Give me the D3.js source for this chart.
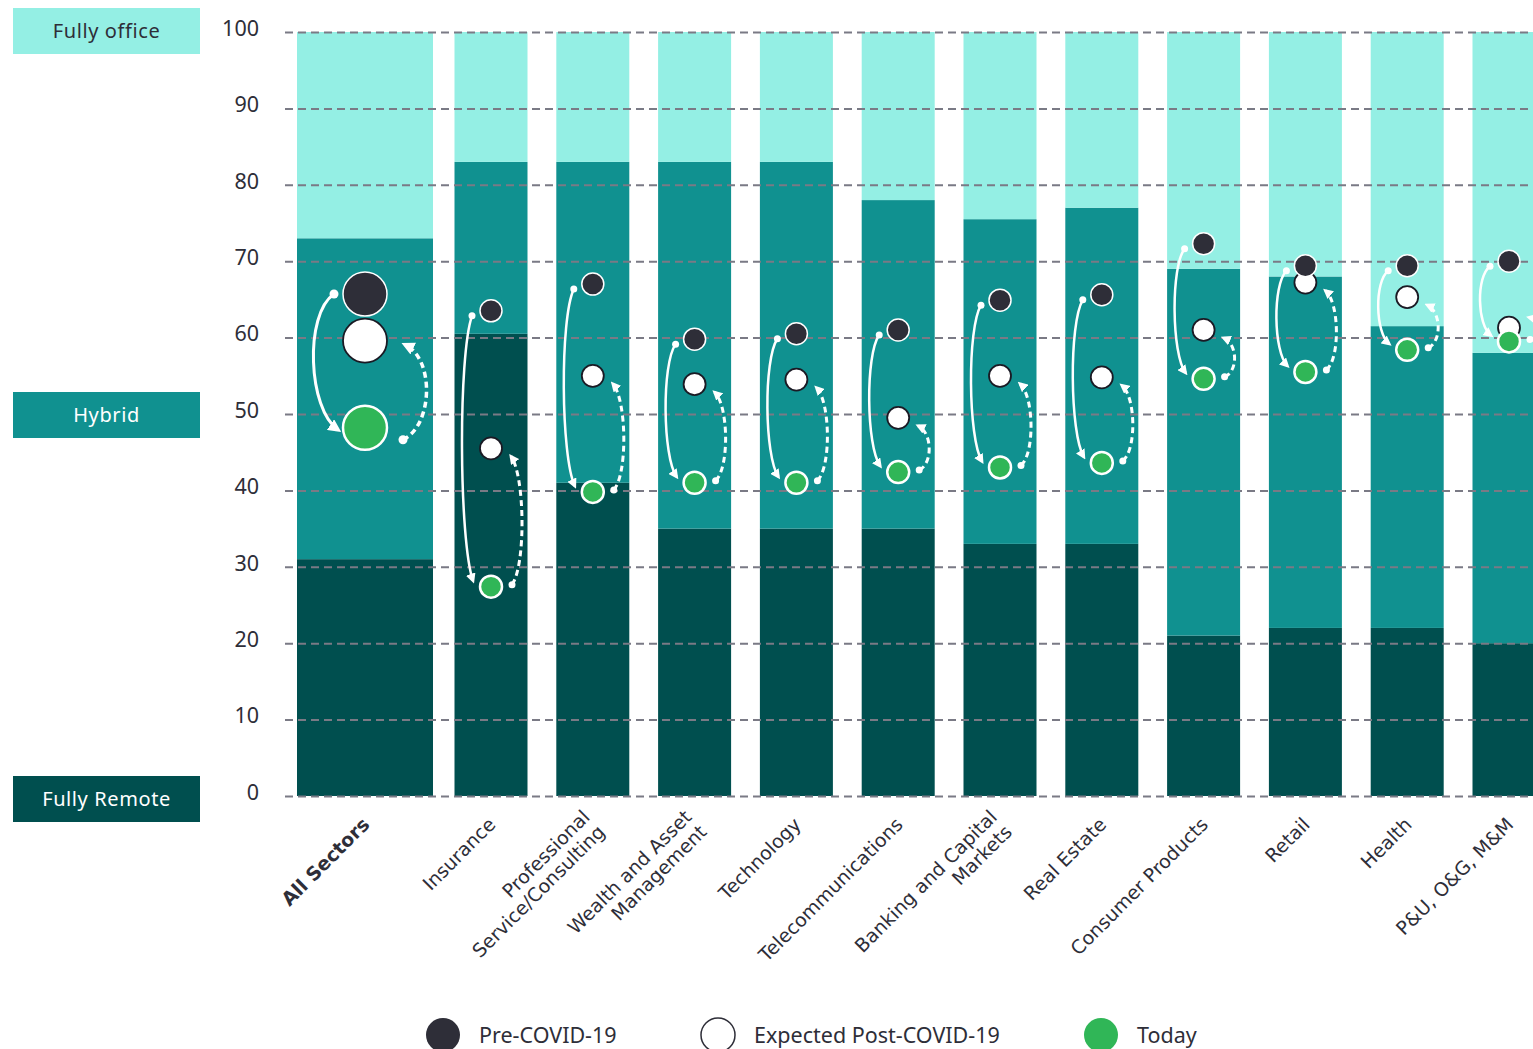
<!DOCTYPE html>
<html>
<head>
<meta charset="utf-8">
<script src="https://cdn.jsdelivr.net/npm/d3@7"></script>
<style>
  body { margin: 0; background: #fff; }
  text { font-family: "Noto Sans", sans-serif; fill: #2e2e38; }
  text.xlab { font-family: "DejaVu Sans", sans-serif; }
</style>
</head>
<body>
<script>
// sectors (line breaks mark the wrapped axis labels)
var categories = ["All Sectors", "Insurance", "Professional\nService/Consulting",
  "Wealth and Asset\nManagement", "Technology", "Telecommunications",
  "Banking and Capital\nMarkets", "Real Estate", "Consumer Products",
  "Retail", "Health", "P&U, O&G, M&M"];

// stacked shares, %
var fullyRemote = [31, 60.5, 41, 35, 35, 35, 33, 33, 21, 22, 22, 20];
var hybrid      = [42, 22.5, 42, 48, 48, 43, 42.5, 44, 48, 46, 39.5, 38];
var fullyOffice = [27, 17, 17, 17, 17, 22, 24.5, 23, 31, 32, 38.5, 42];

// dot values, %
var preCovid = [65.7, 63.5, 67, 59.8, 60.5, 61, 64.9, 65.6, 72.3, 69.4, 69.4, 70];
var expected = [59.6, 45.5, 55, 53.9, 54.5, 49.5, 55, 54.8, 61, 67.2, 65.3, 61.3];
var today    = [48.2, 27.4, 39.8, 41, 41, 42.4, 43, 43.6, 54.6, 55.5, 58.4, 59.5];

var yTicks = [0, 10, 20, 30, 40, 50, 60, 70, 80, 90, 100];
var legendItems = ["Pre-COVID-19", "Expected Post-COVID-19", "Today"];
var segNames = ["Fully Remote", "Hybrid", "Fully office"];

var colors = {
  remote: "#004f4f", hybrid: "#109190", office: "#94efe4",
  pre: "#2e2e38", today: "#30b657", grid: "#7a7a85"
};

var W = 1533, H = 1049;
var svg = d3.select("body").append("svg").attr("width", W).attr("height", H);

var y = d3.scaleLinear().domain([0, 100]).range([796, 32]);
var xSmall = d3.scalePoint().domain(categories.slice(1)).range([491, 1509]);
function cx(i) { return i === 0 ? 365 : xSmall(categories[i]); }
function bw(i) { return i === 0 ? 136 : 73; }

// stacked bars
var stackData = categories.map(function(c, i) {
  return { cat: c, remote: fullyRemote[i], hybrid: hybrid[i], office: fullyOffice[i], i: i };
});
var stack = d3.stack().keys(["remote", "hybrid", "office"]);
var series = stack(stackData);

svg.append("g").selectAll("g")
  .data(series)
  .enter().append("g")
  .attr("fill", function(s) { return colors[s.key]; })
  .selectAll("rect")
  .data(function(s) { return s; })
  .enter().append("rect")
  .attr("x", function(d) { return cx(d.data.i) - bw(d.data.i) / 2; })
  .attr("width", function(d) { return bw(d.data.i); })
  .attr("y", function(d) { return y(d[1]); })
  .attr("height", function(d) { return y(d[0]) - y(d[1]); });

// gridlines + tick labels
var axis = d3.axisLeft(y).tickValues(yTicks).tickSize(-(W - 285)).tickPadding(26);
var ga = svg.append("g").attr("transform", "translate(285,0)").call(axis);
ga.select(".domain").remove();
ga.selectAll(".tick line")
  .attr("stroke", colors.grid).attr("stroke-width", 2).attr("stroke-dasharray", "8,5");
ga.selectAll(".tick text")
  .attr("font-size", 21.5).attr("fill", "#2e2e38")
  .style("font-family", "Noto Sans, sans-serif").attr("dy", "0.15em");

// arrow markers
var defs = svg.append("defs");
[["headS", 10], ["headB", 13]].forEach(function(m) {
  defs.append("marker")
    .attr("id", m[0]).attr("viewBox", "0 0 10 10")
    .attr("refX", 7).attr("refY", 5)
    .attr("markerWidth", m[1]).attr("markerHeight", m[1])
    .attr("markerUnits", "userSpaceOnUse").attr("orient", "auto")
    .append("path").attr("d", "M0,0 L10,5 L0,10 z").attr("fill", "#fff");
});

var geoSmall = { sdx: -19, sdy: 5, edx: -18, edy: -6, b: 14, ddx: 21, ddy: -2, dex: 20, dey: 8,
  dot: 3.5, head: "headS", sw: 2.5, r: 11 };
var geoBig = { sdx: -31, sdy: 0, edx: -27, edy: 2, b: 30, ddx: 38, ddy: 12, dex: 40, dey: 4,
  dot: 4.5, head: "headB", sw: 3, r: 22 };

var arrows = svg.append("g");
categories.forEach(function(c, i) {
  var g = i === 0 ? geoBig : geoSmall;
  var x0 = cx(i);
  // solid: pre -> today, bulging left
  var sx = x0 + g.sdx, sy = y(preCovid[i]) + g.sdy;
  var ex = x0 + g.edx, ey = y(today[i]) + g.edy;
  var h = ey - sy;
  var p = d3.path();
  p.moveTo(sx, sy);
  p.bezierCurveTo(sx - g.b, sy + 0.15 * h, ex - g.b, ey - 0.15 * h, ex, ey);
  arrows.append("path").attr("d", p.toString()).attr("fill", "none")
    .attr("stroke", "#fff").attr("stroke-width", g.sw).attr("marker-end", "url(#" + g.head + ")");
  arrows.append("circle").attr("cx", sx).attr("cy", sy).attr("r", g.dot).attr("fill", "#fff");

  // dashed: today -> expected, bulging right
  var dsx = x0 + g.ddx, dsy = y(today[i]) + g.ddy;
  var dex = x0 + g.dex, dey = Math.min(y(expected[i]) + g.dey, dsy - 22);
  var dh = dsy - dey;
  var q = d3.path();
  q.moveTo(dsx, dsy);
  q.bezierCurveTo(dsx + g.b, dsy - 0.15 * dh, dex + g.b, dey + 0.15 * dh, dex, dey);
  arrows.append("path").attr("d", q.toString()).attr("fill", "none")
    .attr("stroke", "#fff").attr("stroke-width", g.sw + 0.5).attr("stroke-dasharray", "6,4")
    .attr("marker-end", "url(#" + g.head + ")");
  arrows.append("circle").attr("cx", dsx).attr("cy", dsy).attr("r", g.dot).attr("fill", "#fff");
});

// dots: expected, then pre, then today on top
var dots = svg.append("g");
function drawDots(vals, fill, stroke, sw) {
  dots.selectAll(null).data(vals).enter().append("circle")
    .attr("cx", function(d, i) { return cx(i); })
    .attr("cy", function(d) { return y(d); })
    .attr("r", function(d, i) { return i === 0 ? geoBig.r : geoSmall.r; })
    .attr("fill", fill).attr("stroke", stroke).attr("stroke-width", sw);
}
drawDots(expected, "#fff", "#1a1a24", 1.8);
drawDots(preCovid, colors.pre, "#fff", 1.5);
drawDots(today, colors.today, "#fff", 2.5);

// x labels
var xl = svg.append("g");
categories.forEach(function(c, i) {
  var lines = c.split("\n");
  var t = xl.append("text")
    .attr("class", "xlab")
    .attr("transform", "translate(" + (cx(i) + 1) + ",821) rotate(-45)")
    .attr("text-anchor", "end")
    .attr("font-size", 19)
    .attr("font-weight", i === 0 ? "bold" : "normal");
  lines.forEach(function(l, j) {
    t.append("tspan").attr("x", 0)
      .attr("y", (j - (lines.length - 1) / 2) * 21)
      .attr("dy", "0.35em").text(l);
  });
});

// left legend boxes
var boxY = [776, 392, 8];
var boxFill = [colors.remote, colors.hybrid, colors.office];
var boxText = ["#fff", "#fff", "#2e2e38"];
var lb = svg.append("g");
segNames.forEach(function(n, i) {
  lb.append("rect").attr("x", 13).attr("y", boxY[i]).attr("width", 187).attr("height", 46)
    .attr("fill", boxFill[i]);
  lb.append("text").attr("x", 106.5).attr("y", boxY[i] + 23).attr("dy", "0.35em")
    .attr("text-anchor", "middle").attr("font-size", 20).attr("letter-spacing", 0.6)
    .style("fill", boxText[i]).text(n);
});

// bottom legend
var legX = [443, 718, 1101];
var legFill = [colors.pre, "#fff", colors.today];
var lg = svg.append("g");
legendItems.forEach(function(n, i) {
  lg.append("circle").attr("cx", legX[i]).attr("cy", 1035).attr("r", 17)
    .attr("fill", legFill[i]).attr("stroke", i === 1 ? "#2e2e38" : "none").attr("stroke-width", 1.5);
  lg.append("text").attr("x", legX[i] + 36).attr("y", 1043).attr("font-size", 21.5).text(n);
});
</script>
</body>
</html>
